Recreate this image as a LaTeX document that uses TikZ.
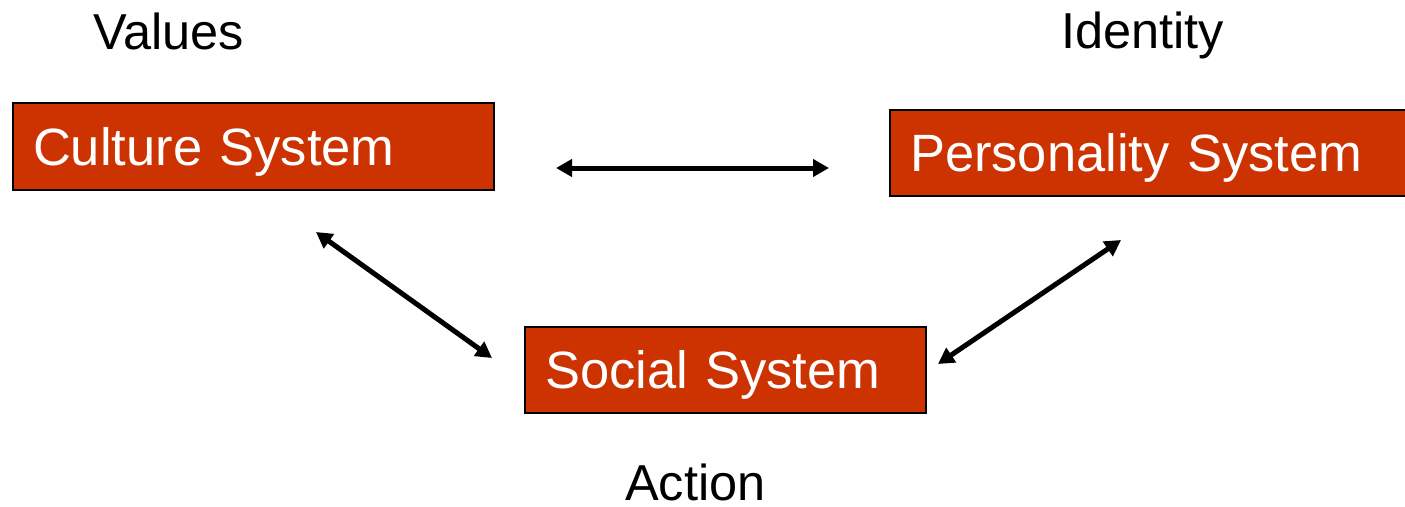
\documentclass[tikz,border=0pt]{standalone}
\usepackage{fontspec}
\setmainfont{Liberation Sans}
\usetikzlibrary{arrows.meta}
\definecolor{sysred}{HTML}{CC3300}
\begin{document}
\begin{tikzpicture}[x=1pt,y=-1pt,
  every node/.style={font=\fontsize{52.5}{60}\selectfont},
  sysbox/.style={draw=black, line width=2pt, fill=sysred, text=white,
    anchor=north west, align=left, inner xsep=20pt, inner ysep=0pt,
    text height=37.6pt, text depth=0pt},
  label/.style={anchor=base west, inner sep=0pt, font=\fontsize{50.5}{58}\selectfont},
  link/.style={line width=5pt, {Triangle[length=16pt,width=17pt]}-{Triangle[length=16pt,width=17pt]}}
]
\useasboundingbox (0,0) rectangle (1405,506);

% the three systems
\node[sysbox, minimum width=481pt, minimum height=87pt, text width=441pt] (culture) at (12,102) {Culture System};
\node[sysbox, minimum width=540pt, minimum height=86pt, text width=500pt] (personality) at (889,109) {Personality System};
\node[sysbox, minimum width=401pt, minimum height=86pt, text width=361pt] (social) at (524,326) {Social System};

% their labels
\node[label] (values) at (93,49) {Values};
\node[label] (identity) at (1061,48.5) {Identity};
\node[label] (action) at (625,500.5) {Action};

% ends of the links
\coordinate (c1) at (556,168);
\coordinate (p1) at (829,168);
\coordinate (c2) at (316,232);
\coordinate (s1) at (492,358);
\coordinate (p2) at (1121,240);
\coordinate (s2) at (938,364);

\draw[link] (c1) -- (p1);
\draw[link] (c2) -- (s1);
\draw[link] (p2) -- (s2);
\end{tikzpicture}
\end{document}
